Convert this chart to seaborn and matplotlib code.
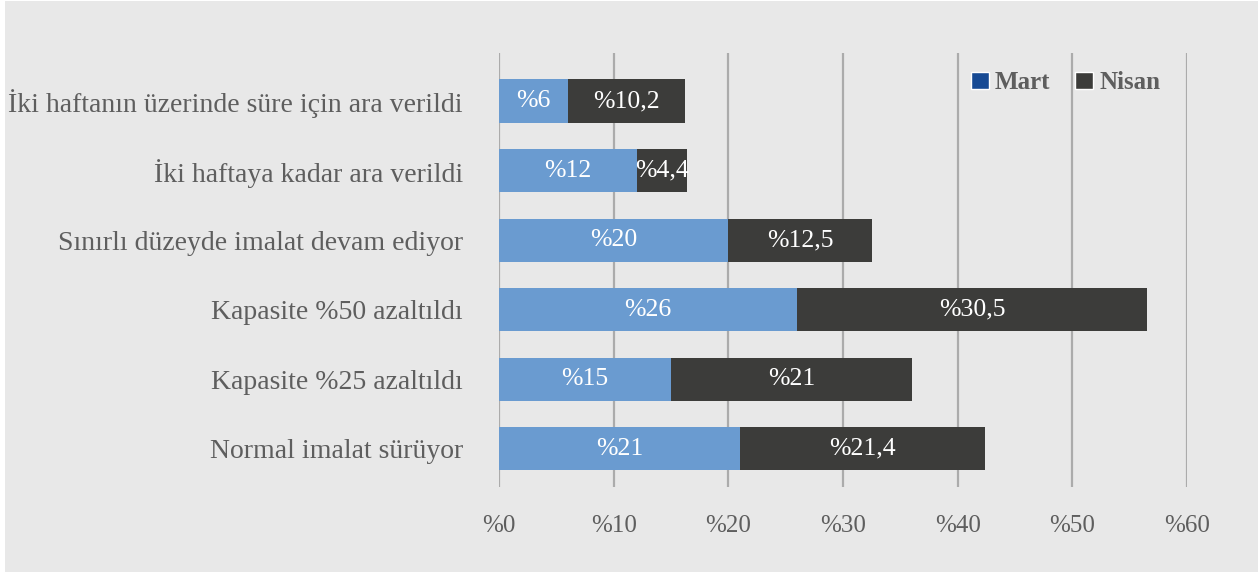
import matplotlib
matplotlib.use("Agg")
import matplotlib.pyplot as plt
from matplotlib.patches import Patch, Rectangle
import pandas as pd
import seaborn as sns

categories = [
    "İki haftanın üzerinde süre için ara verildi",
    "İki haftaya kadar ara verildi",
    "Sınırlı düzeyde imalat devam ediyor",
    "Kapasite %50 azaltıldı",
    "Kapasite %25 azaltıldı",
    "Normal imalat sürüyor",
]
mart = [6, 12, 20, 26, 15, 21]
nisan = [10.2, 4.4, 12.5, 30.5, 21, 21.4]
mart_labels = ["%6", "%12", "%20", "%26", "%15", "%21"]
nisan_labels = ["%10,2", "%4,4", "%12,5", "%30,5", "%21", "%21,4"]
x_ticks = [0, 10, 20, 30, 40, 50, 60]
x_ticklabels = ["%0", "%10", "%20", "%30", "%40", "%50", "%60"]

df = pd.DataFrame({"kategori": categories, "Mart": mart, "Nisan": nisan})
df["toplam"] = df["Mart"] + df["Nisan"]

BG = "#e8e8e8"
GRID = "#ababab"
TEXT = "#5e5e5e"
C_MART = "#6a9bd0"
C_NISAN = "#3c3c3a"
LEG_MART = "#174a94"

sns.set_theme(style="white")
plt.rcParams["font.family"] = ["Liberation Serif", "DejaVu Serif"]

fig = plt.figure(figsize=(12.58, 5.72), dpi=100, facecolor="white")
fig.patches.append(Rectangle((5 / 1258, 0), 1, 1 - 1 / 572, transform=fig.transFigure,
                             facecolor=BG, edgecolor="none", zorder=-10))
ax = fig.add_axes([499 / 1258, 1 - 487 / 572, (1187 - 499) / 1258, (487 - 53) / 572])
ax.patch.set_alpha(0)

# stacked bars: full length (Nisan colour) under the Mart segment
sns.barplot(data=df, y="kategori", x="toplam", color=C_NISAN, orient="h",
            width=0.62, saturation=1, linewidth=0, edgecolor="none", ax=ax, zorder=3)
sns.barplot(data=df, y="kategori", x="Mart", color=C_MART, orient="h",
            width=0.62, saturation=1, linewidth=0, edgecolor="none", ax=ax, zorder=4)

for i, (m, n) in enumerate(zip(mart, nisan)):
    ax.text(m / 2, i, mart_labels[i], ha="center", va="center",
            color="white", fontsize=18.5, zorder=5)
    ax.text(m + n / 2, i, nisan_labels[i], ha="center", va="center",
            color="white", fontsize=18.5, zorder=5)

ax.set_xlim(0, 60)
ax.set_ylim(5.55, -0.69)
ax.set_xticks(x_ticks)
ax.set_xticklabels(x_ticklabels, fontsize=18, color=TEXT)
ax.tick_params(axis="x", length=0, pad=20)
ax.tick_params(axis="y", length=0, pad=26, labelsize=20, labelcolor=TEXT)
ax.set_xlabel("")
ax.set_ylabel("")
ax.grid(axis="x", color=GRID, linewidth=1.6, zorder=0)
ax.set_axisbelow(True)
for s in ax.spines.values():
    s.set_visible(False)

handles = [Patch(facecolor=LEG_MART, label="Mart"), Patch(facecolor=C_NISAN, label="Nisan")]
leg = fig.legend(handles=handles, loc="center", bbox_to_anchor=(0.847, 0.855), ncol=2,
                 frameon=False, handlelength=0.7, handleheight=0.7, handletextpad=0.25,
                 columnspacing=1.0, prop={"family": "Liberation Serif", "weight": "bold", "size": 18})
for t in leg.get_texts():
    t.set_color(TEXT)

fig.savefig("out.png", dpi=100, facecolor=fig.get_facecolor())
